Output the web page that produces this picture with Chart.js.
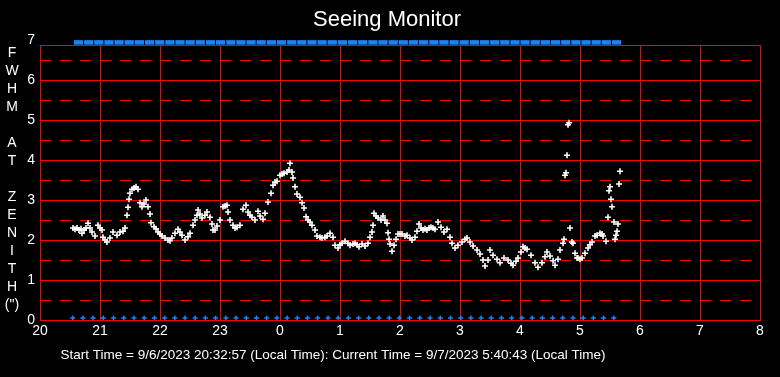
<!DOCTYPE html>
<html><head><meta charset="utf-8">
<script src="https://cdn.jsdelivr.net/npm/chart.js@4"></script>
<style>html,body{margin:0;padding:0;background:#000;overflow:hidden}#wrap{width:780px;height:377px;position:relative}</style>
</head><body><div id="wrap"><canvas id="c"></canvas></div>
<script>
// x values are minutes after 20:00 local time
const xTickHours = [20,21,22,23,0,1,2,3,4,5,6,7,8];
const yTickValues = [0,1,2,3,4,5,6,7];
const yDashedValues = [0.5,1.5,2.5,3.5,4.5,5.5,6.5];
const yAxisLetters = ['F','W','H','M','','A','T','','Z','E','N','I','T','H','(")'];
const titleText = 'Seeing Monitor';
const footerText = 'Start Time = 9/6/2023 20:32:57 (Local Time): Current Time = 9/7/2023 5:40:43 (Local Time)';

const seeingMinutes = [33,35,37,39,41,42,44,46,48,50,52,55,58,60,62,63,65,67,70,73,77,80,83,85,87,88,89,90,92,94,96,98,100,102,104,106,108,110,111,114,116,118,120,122,125,128,130,132,135,138,140,142,145,148,150,153,155,157,158,160,162,165,167,170,172,173,175,177,180,183,185,187,188,190,193,195,197,200,203,206,208,210,212,215,218,220,223,225,228,231,233,235,237,240,242,244,247,249,250,252,253,255,257,260,262,264,266,268,270,272,275,277,280,282,285,287,290,293,295,298,300,302,305,308,310,313,315,317,319,322,325,328,330,332,333,334,336,338,341,343,345,347,348,349,350,352,354,356,358,360,362,365,367,370,372,375,377,379,381,383,385,387,389,391,393,395,398,401,404,407,410,412,415,418,422,425,427,430,433,437,440,443,445,448,450,453,457,460,464,468,471,473,476,478,481,483,485,487,491,495,498,502,505,507,510,513,515,518,520,523,524,525,526,527,528,529,530,532,533,535,537,538,540,542,545,548,550,552,555,557,560,562,563,566,568,569,570,571,572,574,575,576,577,578,579,580];
const seeingFwhm = [2.3,2.27,2.3,2.25,2.28,2.17,2.25,2.3,2.42,2.3,2.2,2.1,2.37,2.3,2.25,2.07,2.0,1.95,2.05,2.2,2.12,2.2,2.22,2.3,2.62,2.82,3.02,3.17,3.27,3.3,3.33,3.27,2.93,2.83,2.9,3.0,2.83,2.65,2.43,2.33,2.28,2.2,2.15,2.1,2.05,2.0,1.98,2.05,2.17,2.27,2.2,2.12,2.0,2.08,2.17,2.37,2.5,2.62,2.75,2.65,2.55,2.62,2.7,2.57,2.4,2.25,2.25,2.35,2.5,2.83,2.85,2.87,2.7,2.5,2.37,2.3,2.32,2.37,2.77,2.87,2.7,2.62,2.57,2.5,2.72,2.6,2.52,2.67,2.95,3.17,3.37,3.45,3.47,3.62,3.65,3.67,3.7,3.75,3.92,3.7,3.55,3.33,3.15,3.07,2.93,2.8,2.58,2.5,2.45,2.37,2.25,2.1,2.07,2.05,2.07,2.1,2.17,2.07,1.87,1.8,1.88,1.92,1.97,1.92,1.87,1.9,1.92,1.88,1.83,1.9,1.85,1.92,2.07,2.2,2.37,2.67,2.6,2.55,2.5,2.6,2.5,2.42,2.18,2.02,1.9,1.72,1.87,2.02,2.15,2.15,2.15,2.1,2.12,2.05,2.0,2.07,2.22,2.4,2.3,2.25,2.28,2.25,2.3,2.32,2.3,2.27,2.45,2.32,2.2,2.27,2.07,1.92,1.8,1.87,1.95,2.02,2.05,1.95,1.85,1.75,1.65,1.5,1.35,1.5,1.75,1.62,1.52,1.43,1.55,1.5,1.42,1.37,1.47,1.55,1.7,1.83,1.8,1.77,1.62,1.43,1.32,1.43,1.58,1.7,1.6,1.48,1.37,1.52,1.75,1.92,2.02,3.62,3.68,4.12,4.88,4.93,2.3,1.95,1.92,1.67,1.55,1.55,1.52,1.55,1.67,1.8,1.88,1.95,2.1,2.12,2.17,2.15,2.1,1.97,2.57,3.23,3.33,3.02,2.83,2.45,2.02,2.12,2.22,2.4,3.4,3.72];

// sample-time markers along the bottom and the status strip along the top
const bottomMarkMinutes = [32.7,42.9,53.1,63.3,73.5,83.8,94.0,104.2,114.4,124.6,134.8,145.0,155.2,165.4,175.6,185.9,196.1,206.3,216.5,226.7,236.9,247.1,257.3,267.5,277.7,288.0,298.2,308.4,318.6,328.8,339.0,349.2,359.4,369.6,379.8,390.1,400.3,410.5,420.7,430.9,441.1,451.3,461.5,471.7,481.9,492.2,502.4,512.6,522.8,533.0,543.2,553.4,563.6,573.8];
const bottomMarkLevel = 0.05;
const topMarkMinutes = [38.5,48.7,58.8,69.0,79.1,89.3,99.4,109.6,119.7,129.9,140.0,150.2,160.3,170.5,180.6,190.8,200.9,211.1,221.2,231.4,241.5,251.7,261.8,272.0,282.1,292.3,302.4,312.6,322.7,332.9,343.0,353.2,363.3,373.5,383.6,393.8,403.9,414.1,424.2,434.4,444.5,454.7,464.8,475.0,485.1,495.3,505.4,515.6,525.7,535.9,546.0,556.2,566.3,576.5];
const topMarkLevel = 6.94;

const FONT = "'Liberation Sans', Arial, sans-serif";
const RED = '#ff0000';
const BLUE = '#1585ff';

const deco = {
  id: 'deco',
  beforeDraw(chart) {
    const ctx = chart.ctx;
    ctx.save();
    ctx.fillStyle = '#000';
    ctx.fillRect(0, 0, chart.width, chart.height);
    ctx.restore();
  },
  beforeDatasetsDraw(chart) {
    const ctx = chart.ctx, a = chart.chartArea, y = chart.scales.y;
    ctx.save();
    ctx.strokeStyle = RED;
    ctx.lineWidth = 1;
    ctx.setLineDash([11, 9]);
    yDashedValues.forEach(v => {
      const py = Math.round(y.getPixelForValue(v)) + 0.5;
      ctx.beginPath();
      ctx.moveTo(a.left, py);
      ctx.lineTo(a.right, py);
      ctx.stroke();
    });
    ctx.setLineDash([]);
    ctx.strokeRect(Math.round(a.left) + 0.5, Math.round(a.top) + 0.5, Math.round(a.right - a.left), Math.round(a.bottom - a.top));
    ctx.restore();
  },
  afterDraw(chart) {
    const ctx = chart.ctx;
    ctx.save();
    ctx.fillStyle = '#fff';
    ctx.textAlign = 'center';
    ctx.textBaseline = 'middle';
    ctx.font = '22px ' + FONT;
    ctx.fillText(titleText, 387, 20);
    ctx.font = '14px ' + FONT;
    yAxisLetters.forEach((s, i) => ctx.fillText(s, 12, 53 + i * 18));
    ctx.font = '13.5px ' + FONT;
    ctx.fillText(footerText, 333, 355);
    ctx.restore();
  }
};

new Chart(document.getElementById('c'), {
  type: 'scatter',
  data: {
    datasets: [
      {
        data: seeingMinutes.map((m, i) => ({x: m, y: seeingFwhm[i]})),
        pointStyle: 'cross', pointRadius: 3, borderColor: '#fff', backgroundColor: '#fff', borderWidth: 1.6, showLine: false
      },
      {
        data: bottomMarkMinutes.map(m => ({x: m, y: bottomMarkLevel})),
        pointStyle: 'cross', pointRadius: 2.5, borderColor: BLUE, backgroundColor: BLUE, borderWidth: 1.5, showLine: false
      },
      {
        data: topMarkMinutes.map(m => ({x: m, y: topMarkLevel})),
        pointStyle: 'line', pointRadius: 4.6, borderColor: BLUE, backgroundColor: BLUE, borderWidth: 4.5, showLine: false, clip: false
      }
    ]
  },
  options: {
    responsive: true, maintainAspectRatio: false, animation: false, devicePixelRatio: 1, events: [],
    layout: {padding: {top: 45, right: 20, left: 0, bottom: 0}},
    plugins: {legend: {display: false}, title: {display: false}, tooltip: {enabled: false}},
    scales: {
      x: {
        type: 'linear', min: 0, max: 720,
        afterFit: s => { s.height = 57; },
        ticks: {stepSize: 60, color: '#fff', font: {family: FONT, size: 14}, padding: 3, maxRotation: 0, autoSkip: false,
          callback: v => xTickHours[Math.round(v / 60)]},
        grid: {color: RED, lineWidth: 1, drawTicks: false},
        border: {display: false}
      },
      y: {
        type: 'linear', min: 0, max: 6.875,
        afterFit: s => { s.width = 40; },
        afterBuildTicks: s => { s.ticks = yTickValues.map(v => ({value: v})); },
        ticks: {color: '#fff', font: {family: FONT, size: 14}, padding: 5, autoSkip: false, callback: v => v},
        grid: {color: c => (c.tick && c.tick.value > 6.875) ? 'rgba(0,0,0,0)' : RED, lineWidth: 1, drawTicks: false},
        border: {display: false}
      }
    }
  },
  plugins: [deco]
});
</script>
</body></html>
